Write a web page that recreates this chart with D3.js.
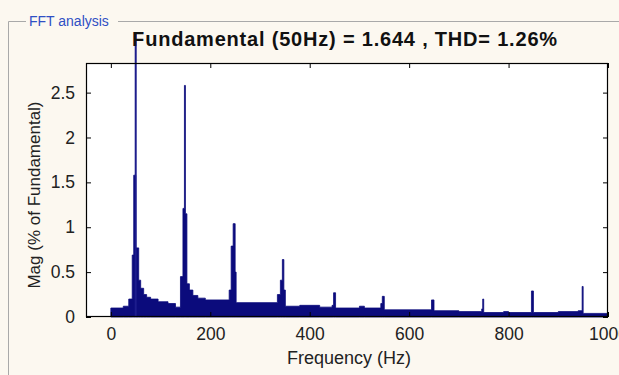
<!DOCTYPE html>
<html>
<head>
<meta charset="utf-8">
<script src="https://cdn.jsdelivr.net/npm/d3@7"></script>
<style>
  html, body { margin: 0; padding: 0; background: #fcf8f0; overflow: hidden; }
  svg { display: block; font-family: Arial, "Liberation Sans", sans-serif; }
</style>
</head>
<body>
<div id="chart"></div>
<script>
// figure size
var w = 619;
var h = 375;

// spectrum as contiguous steps: bin edges (Hz) and magnitude of each bin (% of fundamental)
var binEdges = [0, 25, 36, 43, 46, 50, 56, 60, 66, 72, 80, 95, 115, 130, 140, 145, 148, 150, 153,
                158, 165, 175, 190, 238, 242, 246, 250, 252, 335, 341, 345, 348, 351, 380, 420,
                445, 448, 452, 500, 510, 543, 546, 550, 645, 650, 700, 746, 748, 750, 790, 800,
                846, 850, 900, 940, 948, 950, 1000];
var binMags = [0.10, 0.12, 0.20, 0.69, 1.58, 0.77, 0.41, 0.32, 0.25, 0.22, 0.20, 0.17, 0.15, 0.11,
               0.45, 1.21, 2.58, 1.15, 0.37, 0.30, 0.24, 0.21, 0.19, 0.30, 0.79, 1.04, 0.50, 0.16,
               0.25, 0.41, 0.64, 0.30, 0.12, 0.13, 0.11, 0.13, 0.27, 0.10, 0.12, 0.10, 0.15, 0.23,
               0.08, 0.19, 0.07, 0.06, 0.09, 0.20, 0.05, 0.06, 0.05, 0.29, 0.05, 0.06, 0.07, 0.34,
               0.04];

// fundamental line (runs past the top of the axes in the picture)
var fundFreq = 50;
var fundTop = 3.16;

// ticks
var xTicks = [0, 200, 400, 600, 800, 1000];
var yTicks = [0, 0.5, 1, 1.5, 2, 2.5];

var titleText = "Fundamental (50Hz) = 1.644 , THD= 1.26%";

// axes box
var boxL = 86, boxR = 608, boxT = 63, boxB = 317;

var xScale = d3.scaleLinear().domain([-50, 1000]).range([boxL, boxR]);
var yScale = d3.scaleLinear().domain([0, 2.83]).range([boxB, boxT]);

var svg = d3.select("#chart")
            .append("svg")
            .attr("width", w)
            .attr("height", h);

// panel background + group box
svg.append("rect").attr("width", w).attr("height", h).attr("fill", "#fcf8f0");
svg.append("path")
   .attr("d", "M8.5," + h + " V21.5 H26 M118,21.5 H" + w)
   .attr("fill", "none")
   .attr("stroke", "#a9a9a9")
   .attr("stroke-width", 1);
svg.append("text")
   .attr("x", 29).attr("y", 26)
   .attr("font-size", "14px")
   .attr("fill", "#2f4fc4")
   .text("FFT analysis");

// plot area
svg.append("rect")
   .attr("x", boxL).attr("y", boxT)
   .attr("width", boxR - boxL).attr("height", boxB - boxT)
   .attr("fill", "#ffffff");

// bars drawn as one step area (no seams between bins)
var steps = binEdges.map(function(f, i) {
  return { f: f, mag: i < binMags.length ? binMags[i] : binMags[binMags.length - 1] };
});
var area = d3.area()
             .curve(d3.curveStepAfter)
             .x(function(d) { return xScale(d.f); })
             .y0(yScale(0))
             .y1(function(d) { return yScale(d.mag); });

svg.append("path")
   .datum(steps)
   .attr("d", area)
   .attr("fill", "#0b0b7c")
   .attr("stroke", "#0b0b7c")
   .attr("stroke-width", 0.8)
   .attr("stroke-linejoin", "miter");

// fundamental
svg.append("line")
   .attr("x1", xScale(fundFreq)).attr("x2", xScale(fundFreq))
   .attr("y1", yScale(0)).attr("y2", yScale(fundTop))
   .attr("stroke", "#1c1c8c")
   .attr("stroke-width", 2);

// axes (ticks inward, box style)
var axisStyle = function(g) {
  g.select(".domain").remove();
  g.selectAll("text").attr("fill", "#222").attr("font-size", "17.5px").attr("font-family", "Arial, 'Liberation Sans', sans-serif");
  g.selectAll("line").attr("stroke", "#000");
};

svg.append("g")
   .attr("transform", "translate(0," + boxB + ")")
   .call(d3.axisBottom(xScale).tickValues(xTicks).tickSizeInner(-5).tickSizeOuter(0).tickPadding(11).tickFormat(d3.format("d")))
   .call(axisStyle);

svg.append("g")
   .attr("transform", "translate(0," + boxT + ")")
   .call(d3.axisTop(xScale).tickValues(xTicks).tickSizeInner(-5).tickSizeOuter(0).tickFormat(""))
   .call(axisStyle);

svg.append("g")
   .attr("transform", "translate(" + boxL + ",0)")
   .call(d3.axisLeft(yScale).tickValues(yTicks).tickSizeInner(-5).tickSizeOuter(0).tickPadding(11).tickFormat(d3.format("")))
   .call(axisStyle);

svg.append("g")
   .attr("transform", "translate(" + boxR + ",0)")
   .call(d3.axisRight(yScale).tickValues(yTicks).tickSizeInner(-5).tickSizeOuter(0).tickFormat(""))
   .call(axisStyle);

// box
svg.append("rect")
   .attr("x", boxL + 0.5).attr("y", boxT + 0.5)
   .attr("width", boxR - boxL - 1).attr("height", boxB - boxT - 1)
   .attr("fill", "none")
   .attr("stroke", "#000")
   .attr("stroke-width", 1.2);

// labels
svg.append("text")
   .attr("x", (boxL + boxR) / 2 + 2).attr("y", 364)
   .attr("text-anchor", "middle")
   .attr("font-size", "18px")
   .attr("fill", "#222")
   .text("Frequency (Hz)");

svg.append("text")
   .attr("transform", "translate(40," + ((boxT + boxB) / 2 + 5) + ") rotate(-90)")
   .attr("text-anchor", "middle")
   .attr("font-size", "17px")
   .attr("fill", "#222")
   .text("Mag (% of Fundamental)");

svg.append("text")
   .attr("x", 345).attr("y", 46)
   .attr("text-anchor", "middle")
   .attr("font-size", "20px")
   .attr("font-weight", "bold")
   .attr("letter-spacing", "0.8px")
   .attr("fill", "#111")
   .text(titleText);
</script>
</body>
</html>
